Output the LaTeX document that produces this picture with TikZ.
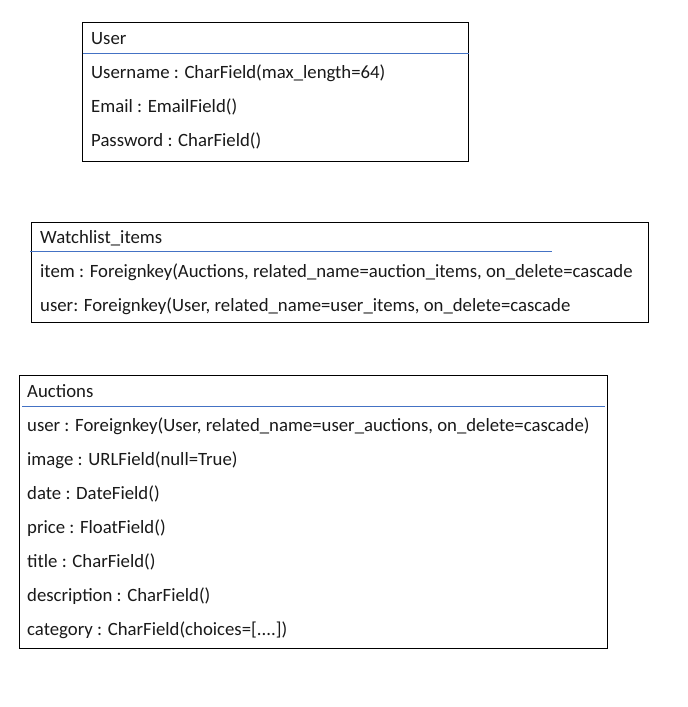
\documentclass[tikz,border=0pt]{standalone}
\usepackage{fontspec}
\setmainfont{Carlito}
\definecolor{sepblue}{RGB}{68,114,196}
\tikzset{
  box/.style={draw=black, line width=1pt, rectangle, anchor=north west, inner sep=0pt, outer sep=0pt},
  field/.style={anchor=base west, inner sep=0pt, font=\fontsize{18.75}{22}\selectfont, text=black!90},
  sep/.style={draw=sepblue, line width=1.1pt},
}
\begin{document}
\begin{tikzpicture}[x=1pt,y=-1pt]
\useasboundingbox (0,0) rectangle (688,707);
% User
\node[box, minimum width=386pt, minimum height=139pt] (user) at (82.5,22.5) {};
\node[field] (ut) at (91,44) {User};
\coordinate (us1) at (82.5,53.5);
\coordinate (us2) at (468.5,53.5);
\draw[sep] (us1) -- (us2);
\node[field] (u1) at (91,78) {Username : CharField(max\_length=64)};
\node[field] (u2) at (91,112) {Email : EmailField()};
\node[field] (u3) at (91,146) {Password : CharField()};
% Watchlist
\node[box, minimum width=617pt, minimum height=100pt] (watch) at (31.5,222.5) {};
\node[field] (wt) at (40,243) {Watchlist\_items};
\coordinate (ws1) at (30,251.5);
\coordinate (ws2) at (552,251.5);
\draw[sep] (ws1) -- (ws2);
\node[field] (w1) at (40,277) {item : Foreignkey(Auctions, related\_name=auction\_items, on\_delete=cascade};
\node[field] (w2) at (40,311) {user: Foreignkey(User, related\_name=user\_items, on\_delete=cascade};
% Auctions
\node[box, minimum width=588pt, minimum height=273pt] (auct) at (19.5,375.5) {};
\node[field] (at) at (27,397) {Auctions};
\coordinate (as1) at (22,406.5);
\coordinate (as2) at (605,406.5);
\draw[sep] (as1) -- (as2);
\node[field] (a1) at (27,431) {user : Foreignkey(User, related\_name=user\_auctions, on\_delete=cascade)};
\node[field] (a2) at (27,465) {image : URLField(null=True)};
\node[field] (a3) at (27,499) {date : DateField()};
\node[field] (a4) at (27,533) {price : FloatField()};
\node[field] (a5) at (27,567) {title : CharField()};
\node[field] (a6) at (27,601) {description : CharField()};
\node[field] (a7) at (27,635) {category : CharField(choices=[....])};
\end{tikzpicture}
\end{document}
